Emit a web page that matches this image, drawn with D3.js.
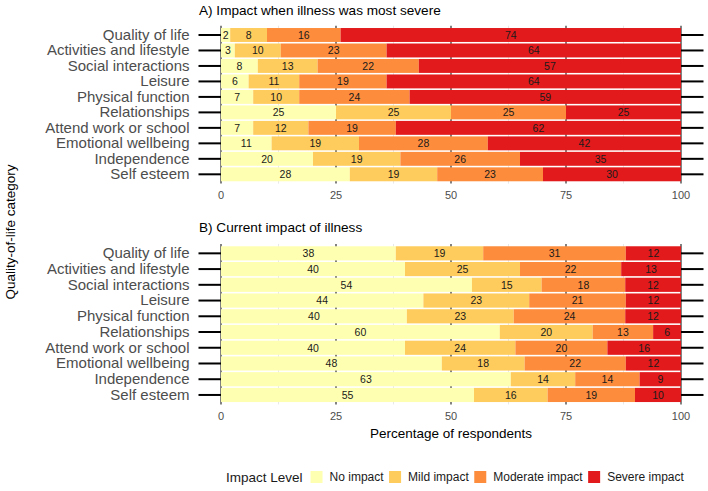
<!DOCTYPE html>
<html>
<head>
<meta charset="utf-8">
<script src="https://cdn.jsdelivr.net/npm/d3@7"></script>
<style>
  body { margin: 0; background: #fff; }
  svg { font-family: "Liberation Sans", Arial, sans-serif; display: block; }
</style>
</head>
<body>
<svg id="chart" width="708" height="491"></svg>
<script>
// categories, top to bottom
var categories = ["Quality of life", "Activities and lifestyle", "Social interactions", "Leisure",
    "Physical function", "Relationships", "Attend work or school", "Emotional wellbeing",
    "Independence", "Self esteem"];
var impactLevels = ["No impact", "Mild impact", "Moderate impact", "Severe impact"];
var impactColors = ["#ffffb2", "#fecc5c", "#fd8d3c", "#e31a1c"];

// A) when illness was most severe (% of respondents)
var worstNo       = [2, 3, 8, 6, 7, 25, 7, 11, 20, 28];
var worstMild     = [8, 10, 13, 11, 10, 25, 12, 19, 19, 19];
var worstModerate = [16, 23, 22, 19, 24, 25, 19, 28, 26, 23];
var worstSevere   = [74, 64, 57, 64, 59, 25, 62, 42, 35, 30];

// B) current impact
var nowNo       = [38, 40, 54, 44, 40, 60, 40, 48, 63, 55];
var nowMild     = [19, 25, 15, 23, 23, 20, 24, 18, 14, 16];
var nowModerate = [31, 22, 18, 21, 24, 13, 20, 22, 14, 19];
var nowSevere   = [12, 13, 12, 12, 12, 6, 16, 12, 9, 10];

var xTicks = [0, 25, 50, 75, 100];
var xMinor = [12.5, 37.5, 62.5, 87.5];

var svg = d3.select("#chart");
var left = 221, right = 681;

var x = d3.scaleLinear().domain([0, 100]).range([left, right]);

function buildRows(a, b, c, d){
    return categories.map(function(cat, i){
        return {cat: cat, v: [a[i], b[i], c[i], d[i]]};
    });
}

function drawPanel(title, rows, top, bottom, titleY, tickLabelY){
    var g = svg.append("g");

    var y = d3.scaleBand()
        .domain(categories)
        .range([top, bottom])
        .paddingInner(0.1)
        .paddingOuter(0.15);

    // grid under the bars (only shows through the gaps)
    g.selectAll("line.minor").data(xMinor).enter().append("line")
        .attr("class", "minor")
        .attr("x1", function(d){ return x(d); })
        .attr("x2", function(d){ return x(d); })
        .attr("y1", top).attr("y2", bottom)
        .attr("stroke", "#d9d9d9")
        .attr("stroke-width", 0.6);
    g.selectAll("line.major").data(xTicks).enter().append("line")
        .attr("class", "major")
        .attr("x1", function(d){ return x(d); })
        .attr("x2", function(d){ return x(d); })
        .attr("y1", top).attr("y2", bottom)
        .attr("stroke", "#1a1a1a")
        .attr("stroke-width", 1.1);

    // stacked segments, each row filled to 100%
    rows.forEach(function(row){
        var total = d3.sum(row.v);
        var acc = 0;
        row.v.forEach(function(val, k){
            var x0 = acc / total * 100;
            acc += val;
            var x1 = acc / total * 100;
            g.append("rect")
                .attr("x", x(x0))
                .attr("y", y(row.cat))
                .attr("width", x(x1) - x(x0))
                .attr("height", y.bandwidth())
                .attr("fill", impactColors[k]);
            g.append("text")
                .attr("x", (x(x0) + x(x1)) / 2)
                .attr("y", y(row.cat) + y.bandwidth() / 2)
                .attr("dy", "0.36em")
                .attr("text-anchor", "middle")
                .attr("font-size", "10.5px")
                .attr("fill", "#1a1a1a")
                .text(val);
        });
    });

    // y axis, long ticks both sides
    var yLeft = g.append("g")
        .attr("transform", "translate(" + left + ",0)")
        .call(d3.axisLeft(y).tickSize(22.5).tickPadding(9));
    yLeft.select(".domain").remove();
    yLeft.selectAll("line").attr("stroke", "#000").attr("stroke-width", 2);
    yLeft.selectAll("text")
        .attr("font-size", "15px")
        .attr("font-family", "Liberation Sans, Arial, sans-serif")
        .attr("fill", "#4d4d4d");

    var yRight = g.append("g")
        .attr("transform", "translate(" + right + ",0)")
        .call(d3.axisRight(y).tickSize(22.5).tickFormat(""));
    yRight.select(".domain").remove();
    yRight.selectAll("line").attr("stroke", "#000").attr("stroke-width", 2);

    // x tick labels
    g.selectAll("text.xlab").data(xTicks).enter().append("text")
        .attr("class", "xlab")
        .attr("x", function(d){ return x(d); })
        .attr("y", tickLabelY)
        .attr("text-anchor", "middle")
        .attr("font-size", "11px")
        .attr("fill", "#4d4d4d")
        .text(function(d){ return d; });

    g.append("text")
        .attr("x", 199)
        .attr("y", titleY)
        .attr("font-size", "13.6px")
        .attr("fill", "#000")
        .text(title);
}

drawPanel("A) Impact when illness was most severe",
    buildRows(worstNo, worstMild, worstModerate, worstSevere), 25.7, 183.6, 14.5, 199);
drawPanel("B) Current impact of illness",
    buildRows(nowNo, nowMild, nowModerate, nowSevere), 243.9, 404.4, 232, 420);

// axis titles
svg.append("text")
    .attr("x", (left + right) / 2)
    .attr("y", 437.5)
    .attr("text-anchor", "middle")
    .attr("font-size", "13.5px")
    .text("Percentage of respondents");

svg.append("text")
    .attr("transform", "translate(15,232) rotate(-90)")
    .attr("text-anchor", "middle")
    .attr("font-size", "13.5px")
    .text("Quality-of-life category");

// legend
var legend = svg.append("g");
var lx = 226, ly = 477;
var lt = legend.append("text")
    .attr("x", lx).attr("y", ly).attr("dy", "0.36em")
    .attr("font-size", "13.5px")
    .attr("fill", "#1a1a1a")
    .text("Impact Level");
lx += lt.node().getComputedTextLength() + 8;
impactLevels.forEach(function(lvl, k){
    legend.append("rect")
        .attr("x", lx).attr("y", ly - 6)
        .attr("width", 12).attr("height", 12)
        .attr("fill", impactColors[k]);
    var t = legend.append("text")
        .attr("x", lx + 19).attr("y", ly).attr("dy", "0.36em")
        .attr("font-size", "12px")
        .attr("fill", "#1a1a1a")
        .text(lvl);
    lx += 19 + t.node().getComputedTextLength() + 5.5;
});
</script>
</body>
</html>
